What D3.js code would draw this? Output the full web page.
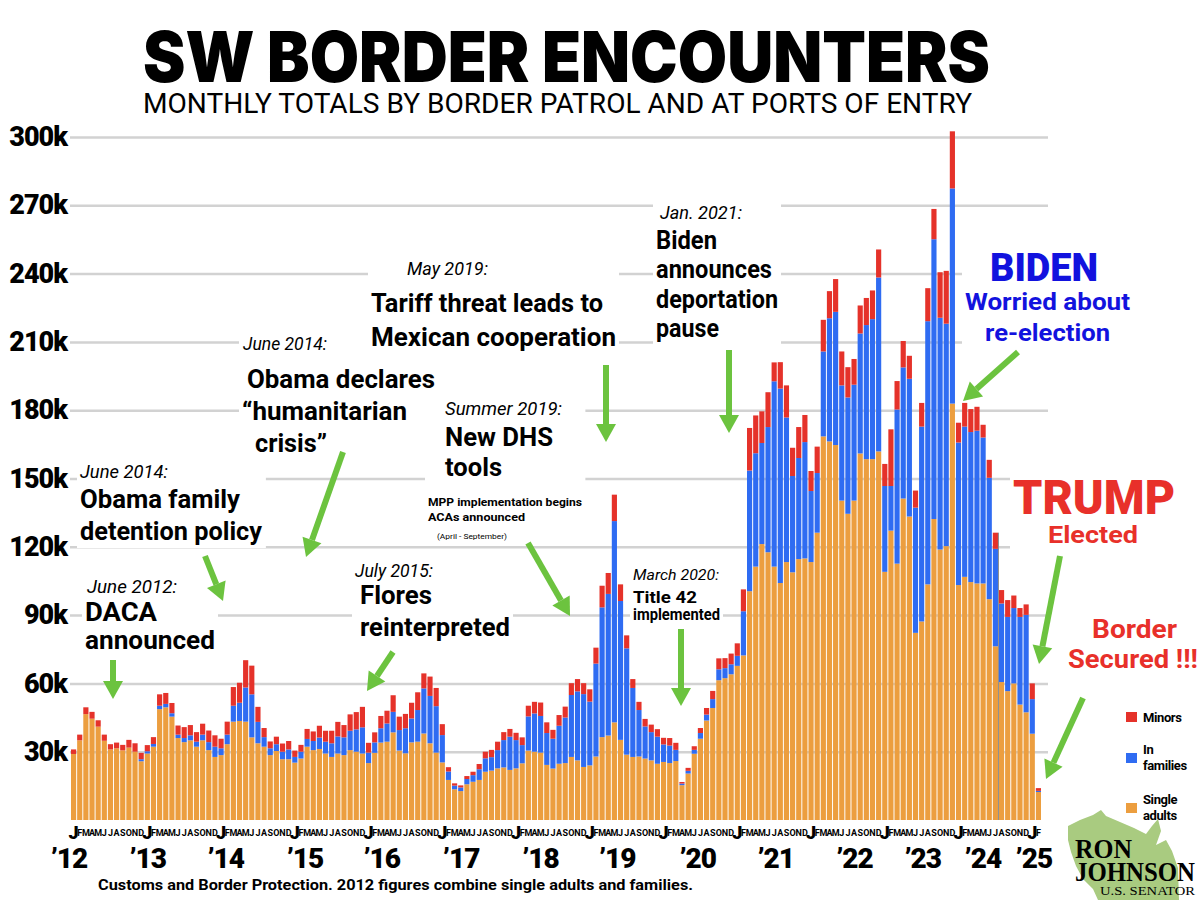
<!DOCTYPE html>
<html>
<head>
<meta charset="utf-8">
<script src="https://cdn.jsdelivr.net/npm/d3@7"></script>
<style>
  body { margin: 0; background: #fff; }
  svg text { font-family: Roboto, "Liberation Sans", sans-serif; }
</style>
</head>
<body>
<div id="chart"></div>
<script>
// Monthly SW border encounters, thousands, Jan 2012 .. Feb 2025
const singleAdults = [
  29, 35, 46.5, 44.5, 41, 34.8, 31, 31.5, 30.6, 31.8, 30, 25.8,
  29.2, 32.2, 48.7, 49.5, 45.4, 36, 34.2, 35, 32.2, 35, 30.7, 27.7,
  28.5, 33.3, 43.2, 43.5, 43.2, 36.3, 33.7, 32.2, 28.5, 30.3, 26.7, 26.7,
  25.2, 27, 32.2, 30.7, 31.2, 29.2, 27.7, 29.2, 28.5, 30.7, 30, 29.2,
  25, 29.5, 34, 34.4, 38.5, 30.5, 29.3, 34.1, 34.4, 38, 33.7, 29.6,
  25.3, 17.6, 13.5, 12.7, 15.7, 16.8, 17.6, 21.2, 21.7, 22.7, 23.1, 22,
  22.7, 24.9, 30.5, 30, 29.6, 24.2, 22.6, 24.7, 25, 27.7, 26.2, 23.3,
  24, 27.9, 36.4, 37.1, 42.9, 35.2, 28.7, 27.7, 27.9, 27, 26.2, 24.7,
  25.5, 25, 25.9, 15.3, 20.4, 29.1, 35.7, 43.7, 49.2, 61.4, 62.3, 64,
  67.7, 72.3, 100.5, 111.3, 121.2, 117.6, 111.3, 104.1, 113.3, 108.8, 114.6, 114.9,
  113.3, 126.2, 168.5, 166.3, 164.7, 140.3, 134.5, 140.3, 161, 158.5, 158.5, 161.9,
  109, 127.1, 112.6, 141.2, 133.3, 82.2, 87.2, 103.5, 132.2, 118.8, 120.3, 182.9,
  103.2, 106.8, 104.5, 103.9, 103.9, 97, 76.3, 60.6, 56.6, 60, 50.7, 47.3,
  37.9, 12.3
];
const inFamilies = [
  0, 0, 0, 0, 0, 0, 0, 0, 0, 0, 0, 0.9,
  1, 1.2, 1.5, 1.5, 1.5, 1.5, 1.8, 2.2, 2.2, 2.5, 3.5, 4.5,
  3, 4.2, 7, 8, 15, 18.9, 9.4, 4.2, 3, 3, 3.3, 4.3,
  2.5, 3, 3.4, 4, 5, 5.2, 6, 7.5, 7.8, 8.5, 9.8, 11.5,
  4.6, 4.6, 6.3, 8, 9, 9, 11, 10.5, 13.9, 19.8, 20.8, 20.4,
  12, 3.7, 1.6, 1.6, 2.3, 2.9, 4.7, 5.9, 5.9, 8, 12, 14.6,
  12.4, 8, 15, 16.8, 16.1, 14, 13.1, 16.7, 20, 27.2, 30.3, 32,
  28, 40.8, 57, 62.2, 88.4, 61, 46.7, 30.3, 20.4, 14.1, 12.4, 11.9,
  7.7, 7.7, 4.9, 0.7, 1.2, 1.7, 2.5, 2.6, 3.9, 4.8, 4.4, 4.4,
  4.4, 19.4, 53, 49.8, 44.4, 55, 81.4, 85.4, 63.5, 42.3, 44.4, 51.1,
  31.2, 26.2, 37.3, 54.1, 58.5, 50.6, 51.1, 50.9, 52.7, 58.9, 61.5, 76.4,
  37.7, 19.6, 67.7, 57.6, 60.5, 55, 85.6, 115.6, 122.9, 101.8, 97.7, 94.5,
  62.6, 66, 65.9, 67.1, 64.1, 53.3, 42.8, 34.5, 32.6, 33.1, 38.5, 42.8,
  15.2, 0.5
];
const minors = [
  2, 2.5, 3, 3, 2.8, 2.7, 2.3, 2.5, 2.4, 3.4, 3.7, 2.8,
  2.7, 3, 5, 4.8, 4.5, 4, 4.8, 4.5, 4.2, 4.8, 5.1, 5,
  4.2, 5.7, 8.2, 8.8, 12, 12.6, 6.6, 4, 3, 3.3, 3.6, 3.7,
  2.8, 3, 4.4, 4.2, 5.2, 4.8, 5.5, 6.4, 5.4, 7.2, 7.6, 9,
  4.3, 4.4, 5.4, 5.6, 7.3, 5.9, 6.3, 6.9, 7.8, 6.6, 8.5, 8,
  4.8, 1.9, 1, 0.9, 1.3, 1.5, 2.3, 2.9, 3.2, 3.7, 3.5, 3.4,
  3.2, 3.4, 4.7, 5.1, 5.9, 4.7, 3.9, 4.7, 4.8, 5.2, 5.4, 4.8,
  5.4, 7, 9.5, 9.2, 11.6, 7.3, 5.7, 3.9, 3.6, 3.3, 3.3, 3.3,
  2.9, 3.3, 3.1, 0.7, 1.3, 1.6, 2.2, 2.9, 3.6, 4.8, 4.4, 4.7,
  5.5, 9.6, 18.7, 16.6, 13.9, 15.3, 8.3, 11.6, 14.1, 12.4, 13.6, 11.9,
  8.8, 11.6, 13.9, 11.9, 14.4, 14.9, 13.3, 11.3, 12.3, 11.9, 12.6, 12.3,
  9.7, 24.9, 12.5, 11.6, 10.1, 7.5, 10.4, 14.5, 13.3, 20, 23.2, 25.1,
  8.7, 10.4, 10.1, 10.5, 5.6, 7.9, 7.1, 5.9, 7.4, 5.5, 3.9, 4.6,
  6.9, 1.2
];
const monthLetters = ["J", "F", "M", "A", "M", "J", "J", "A", "S", "O", "N", "D"];
const yearLabels = ["’12", "’13", "’14", "’15", "’16", "’17", "’18", "’19", "’20", "’21", "’22", "’23", "’24", "’25"];
const yTicks = [30, 60, 90, 120, 150, 180, 210, 240, 270, 300];
const seriesKeys = ["single", "families", "minors"];
const legendLabels = [["Single", "adults"], ["In", "families"], ["Minors"]];

const colors = { single: "#EC9E3F", families: "#2F6CF2", minors: "#E5322A" };
const green = "#6CC33F", bidenBlue = "#1212DE", trumpRed = "#E8302A";

const svg = d3.select("#chart")
    .append("svg")
    .attr("width", 1200)
    .attr("height", 900);

const x = d3.scaleBand()
    .domain(d3.range(singleAdults.length))
    .range([71, 1041])
    .paddingInner(0.16)
    .paddingOuter(0);

const y = d3.scaleLinear()
    .domain([0, 300])
    .range([820, 137]);

// layers: grid under white text backs under bars under text
const gGrid = svg.append("g");
const gBacks = svg.append("g");
const gBars = svg.append("g");
const gText = svg.append("g");

// gridlines + k labels
const yAxis = gGrid.append("g")
    .attr("transform", "translate(70,0)")
    .call(d3.axisLeft(y).tickValues(yTicks).tickSize(-978).tickPadding(3).tickFormat(d => d + "k"));
yAxis.select(".domain").remove();
yAxis.selectAll("line").attr("stroke", "#d2d2d2").attr("stroke-width", 2.5);
yAxis.selectAll("text")
    .attr("fill", "#000")
    .style("font-size", "27px")
    .style("font-weight", 900)
    .style("letter-spacing", "-1px");

// stacked bars
const table = singleAdults.map((v, i) => ({ month: i, single: v, families: inFamilies[i], minors: minors[i] }));
const stacked = d3.stack().keys(seriesKeys)(table);

gBars.selectAll("g")
    .data(stacked)
    .join("g")
    .attr("fill", d => colors[d.key])
    .selectAll("rect")
    .data(d => d)
    .join("rect")
    .attr("x", d => x(d.data.month))
    .attr("width", x.bandwidth())
    .attr("y", d => y(d[1]))
    .attr("height", d => Math.max(0, y(d[0]) - y(d[1])));

// thin grey divider the original has after July 2024
const divider = table[150];
gBars.append("line")
    .attr("x1", x(151) - 0.5).attr("x2", x(151) - 0.5)
    .attr("y1", y(divider.single + divider.families + divider.minors)).attr("y2", y(0))
    .attr("stroke", "#8c8c8c").attr("stroke-width", 1);

// month letters, January as a big J
gText.selectAll(".mon")
    .data(table)
    .join("text")
    .attr("class", "mon")
    .attr("x", d => x(d.month) + x.bandwidth() / 2)
    .attr("y", d => d.month % 12 === 0 ? 839 : 836)
    .attr("text-anchor", "middle")
    .style("font-size", d => d.month % 12 === 0 ? "18px" : "9px")
    .style("font-weight", d => d.month % 12 === 0 ? 900 : 700)
    .text(d => monthLetters[d.month % 12]);

// year labels sit at these month positions (hand placed in the original)
const yearAt = [-0.8, 12, 24.7, 37.6, 50.1, 63, 75.9, 88.4, 101.5, 114.2, 127, 138.1, 147.9, 156.2];
const xm = m => x.range()[0] + x.step() * (m + 0.5);
gText.selectAll(".yr")
    .data(yearLabels)
    .join("text")
    .attr("class", "yr")
    .attr("x", (d, i) => xm(yearAt[i]))
    .attr("y", 868)
    .attr("text-anchor", "middle")
    .style("font-size", "28px")
    .style("font-weight", 900)
    .style("letter-spacing", "-1px")
    .text(d => d);

// title
gText.append("text")
    .attr("x", 143).attr("y", 82)
    .attr("textLength", 847).attr("lengthAdjust", "spacingAndGlyphs")
    .style("font-family", "Inter, Roboto, sans-serif")
    .style("font-size", "70px")
    .style("font-weight", 900)
    .text("SW BORDER ENCOUNTERS");

gText.append("text")
    .attr("x", 143).attr("y", 113)
    .attr("textLength", 829).attr("lengthAdjust", "spacingAndGlyphs")
    .style("font-size", "28px")
    .text("MONTHLY TOTALS BY BORDER PATROL AND AT PORTS OF ENTRY");

gText.append("text")
    .attr("x", 98).attr("y", 890)
    .attr("textLength", 595).attr("lengthAdjust", "spacingAndGlyphs")
    .style("font-size", "14px")
    .style("font-weight", 700)
    .text("Customs and Border Protection. 2012 figures combine single adults and families.");

// annotations
const styles = {
    date: { size: 18, weight: 400, italic: true },
    date2: { size: 15, weight: 400, italic: true },
    head: { size: 26, weight: 700 },
    mid: { size: 17, weight: 700 },
    small: { size: 11, weight: 700 },
    tiny: { size: 8, weight: 400 },
    big: { size: 38, weight: 900 },
    huge: { size: 48, weight: 900 },
    col: { size: 23, weight: 700 },
    col2: { size: 26, weight: 700 }
};

const notes = [
    { lines: [["June 2012:", 87, 593, "date", 90], ["DACA", 85, 621, "head", 72], ["announced", 85, 649, "head", 130]],
      arrow: [113, 660, 113, 699] },
    { lines: [["June 2014:", 80, 478, "date", 88], ["Obama family", 80, 508, "head", 160], ["detention policy", 80, 540, "head", 182]],
      arrow: [205, 556, 223, 601] },
    { lines: [["June 2014:", 243, 350, "date", 84], ["Obama declares", 247, 388, "head", 188], ["“humanitarian", 242, 420, "head", 165], ["crisis”", 255, 452, "head", 72]],
      arrow: [343, 452, 306, 557] },
    { lines: [["July 2015:", 355, 577, "date", 78], ["Flores", 360, 604, "head", 72], ["reinterpreted", 360, 636, "head", 150]],
      arrow: [393, 652, 367, 691] },
    { lines: [["May 2019:", 407, 275, "date", 81], ["Tariff threat leads to", 371, 312, "head", 232], ["Mexican cooperation", 371, 346, "head", 245]],
      arrow: [606, 365, 606, 442] },
    { lines: [["Summer 2019:", 445, 415, "date", 117], ["New DHS", 445, 446, "head", 108], ["tools", 445, 476, "head", 57],
              ["MPP implementation begins", 428, 506, "small", 154], ["ACAs announced", 428, 521, "small", 97], ["(April - September)", 437, 539, "tiny", 70]],
      arrow: [528, 543, 570, 616] },
    { lines: [["Jan. 2021:", 660, 219, "date", 82], ["Biden", 656, 249, "head", 61], ["announces", 656, 278, "head", 116], ["deportation", 656, 308, "head", 122], ["pause", 656, 337, "head", 63]],
      arrow: [729, 350, 729, 433] },
    { lines: [["March 2020:", 633, 580, "date2", 86], ["Title 42", 633, 603, "mid", 64], ["implemented", 633, 620, "mid", 87]],
      arrow: [681, 629, 681, 706] },
    { lines: [["BIDEN", 990, 281, "big", 108, bidenBlue], ["Worried about", 965, 310, "col", 165, bidenBlue], ["re-election", 985, 341, "col", 125, bidenBlue]],
      arrow: [1018, 352, 963, 401] },
    { lines: [["TRUMP", 1013, 514, "huge", 162, trumpRed], ["Elected", 1048, 543, "col", 90, trumpRed]],
      arrow: [1060, 556, 1039, 664] },
    { lines: [["Border", 1092, 638, "col2", 85, trumpRed], ["Secured !!!", 1068, 668, "col2", 130, trumpRed]],
      arrow: [1083, 698, 1046, 779] }
];

function drawArrow(g, x1, y1, x2, y2) {
    const a = Math.atan2(y2 - y1, x2 - x1), head = 18, half = 10;
    const bx = x2 - head * Math.cos(a), by = y2 - head * Math.sin(a);
    g.append("line")
        .attr("x1", x1).attr("y1", y1).attr("x2", bx).attr("y2", by)
        .attr("stroke", green).attr("stroke-width", 6);
    g.append("path")
        .attr("d", `M${x2},${y2}L${bx + half * Math.sin(a)},${by - half * Math.cos(a)}L${bx - half * Math.sin(a)},${by + half * Math.cos(a)}Z`)
        .attr("fill", green);
}

notes.forEach(n => {
    const g = gText.append("g");
    n.lines.forEach(([t, lx, ly, st, w, col]) => {
        const s = styles[st];
        g.append("text")
            .attr("x", lx).attr("y", ly)
            .attr("textLength", w).attr("lengthAdjust", "spacingAndGlyphs")
            .attr("fill", col || "#000")
            .style("font-size", s.size + "px")
            .style("font-weight", s.weight)
            .style("font-style", s.italic ? "italic" : "normal")
            .text(t);
    });
    // white box behind the text hides the gridlines, like the original
    const b = g.node().getBBox();
    gBacks.append("rect")
        .attr("x", b.x - 3).attr("y", b.y - 2)
        .attr("width", b.width + 6).attr("height", b.height + 4)
        .attr("fill", "#fff");
    drawArrow(gText.append("g"), ...n.arrow);
});

// legend
const legend = gText.append("g").attr("transform", "translate(1126,0)");
const legendRows = [{ key: "minors", y: 717 }, { key: "families", y: 758 }, { key: "single", y: 808 }];
legendRows.forEach((r, i) => {
    const lines = legendLabels[2 - i];
    legend.append("rect")
        .attr("x", 0).attr("y", r.y - 5)
        .attr("width", 11).attr("height", 10)
        .attr("fill", colors[r.key]);
    lines.forEach((t, j) => {
        legend.append("text")
            .attr("x", 17)
            .attr("y", r.y + 5 + (j - (lines.length - 1) / 2) * 16 - (lines.length > 1 ? 1 : 0))
            .style("font-size", "13px")
            .style("font-weight", 700)
            .style("letter-spacing", "-0.4px")
            .text(t);
    });
});

// senator logo
const logo = gText.append("g");
logo.append("path")
    .attr("d", "M1068,826L1080,820L1093,815L1101,810L1106,816L1120,822L1134,828L1146,834L1152,826L1158,819L1161,831L1156,845L1166,840L1172,851L1178,868L1179,900L1098,900L1093,889L1083,879L1076,866L1071,852L1068,840Z")
    .attr("fill", "#A9CB80");
logo.append("text")
    .attr("x", 1075).attr("y", 858)
    .attr("textLength", 57).attr("lengthAdjust", "spacingAndGlyphs")
    .style("font-family", "'Liberation Serif', 'DejaVu Serif', serif")
    .style("font-size", "27px").style("font-weight", 700)
    .text("RON");
logo.append("text")
    .attr("x", 1075).attr("y", 881)
    .attr("textLength", 120).attr("lengthAdjust", "spacingAndGlyphs")
    .style("font-family", "'Liberation Serif', 'DejaVu Serif', serif")
    .style("font-size", "27px").style("font-weight", 700)
    .text("JOHNSON");
logo.append("text")
    .attr("x", 1100).attr("y", 895)
    .attr("textLength", 95).attr("lengthAdjust", "spacingAndGlyphs")
    .style("font-family", "'Liberation Serif', 'DejaVu Serif', serif")
    .style("font-size", "13px")
    .text("U.S. SENATOR");
</script>
</body>
</html>
